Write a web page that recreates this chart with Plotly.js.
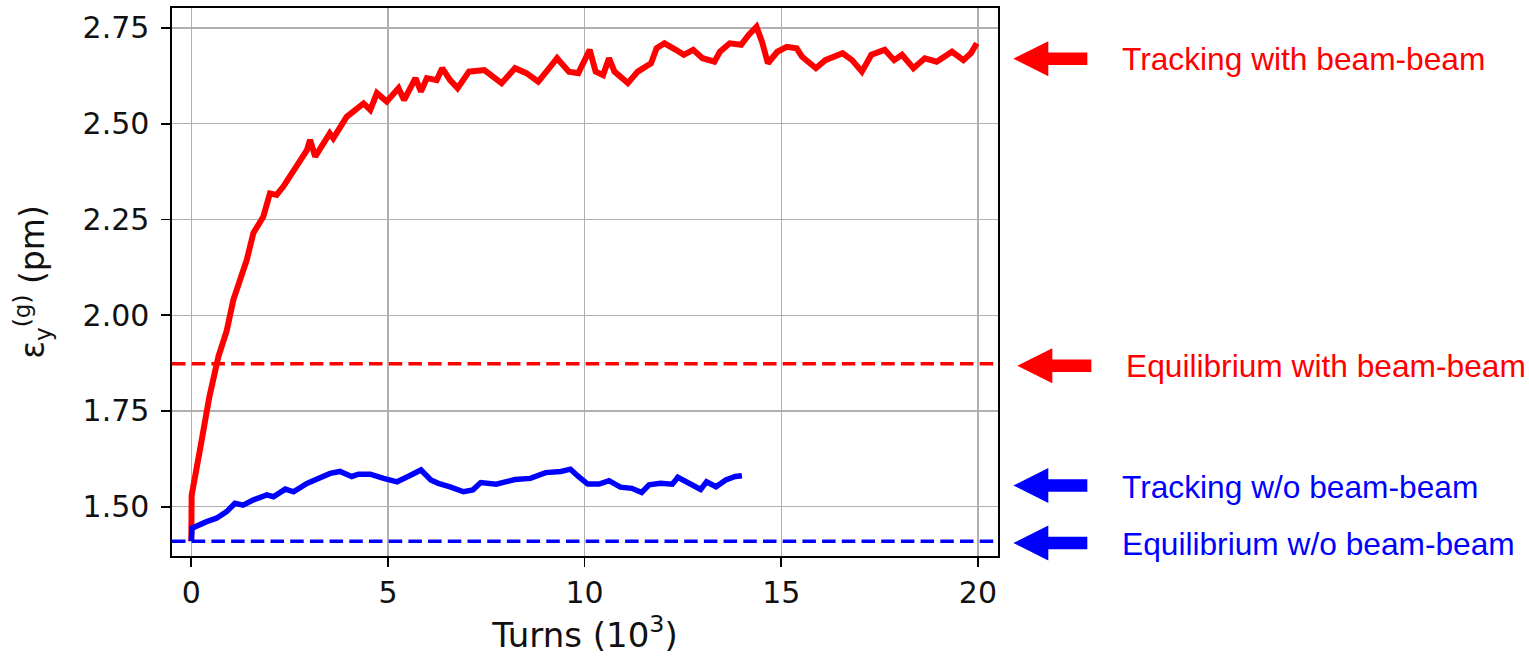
<!DOCTYPE html>
<html>
<head>
<meta charset="utf-8">
<script src="https://cdn.plot.ly/plotly-3.0.1.min.js"></script>
<style>html,body{margin:0;padding:0;background:#fff;} #chart{width:1529px;height:656px;}</style>
</head>
<body>
<div id="chart"></div>
<script>
// ---- data (turns in 10^3, emittance in pm) ----
var redTurns = [0, 0.01, 0.22, 0.46, 0.69, 0.9, 1.07, 1.41, 1.58, 1.83, 2.0, 2.17, 2.34, 2.6, 2.94, 3.02, 3.15, 3.52, 3.61, 3.95, 4.38, 4.55, 4.72, 4.97, 5.27, 5.41, 5.70, 5.84, 5.99, 6.24, 6.38, 6.58, 6.77, 7.06, 7.45, 7.89, 8.23, 8.52, 8.82, 9.06, 9.30, 9.60, 9.84, 10.13, 10.28, 10.47, 10.62, 10.76, 11.10, 11.35, 11.69, 11.83, 12.03, 12.32, 12.52, 12.76, 13.00, 13.30, 13.44, 13.69, 13.98, 14.17, 14.37, 14.51, 14.66, 14.90, 15.14, 15.39, 15.53, 15.88, 16.12, 16.56, 16.80, 17.05, 17.29, 17.63, 17.87, 18.07, 18.36, 18.65, 18.95, 19.34, 19.63, 19.82, 19.97];
var redEmit = [1.41, 1.53, 1.648, 1.787, 1.892, 1.959, 2.040, 2.144, 2.215, 2.257, 2.318, 2.314, 2.336, 2.379, 2.431, 2.458, 2.414, 2.475, 2.462, 2.518, 2.553, 2.536, 2.580, 2.558, 2.593, 2.562, 2.619, 2.584, 2.619, 2.614, 2.645, 2.614, 2.593, 2.636, 2.640, 2.606, 2.645, 2.632, 2.610, 2.640, 2.671, 2.636, 2.632, 2.693, 2.636, 2.627, 2.671, 2.636, 2.606, 2.636, 2.658, 2.697, 2.710, 2.693, 2.680, 2.693, 2.671, 2.662, 2.688, 2.710, 2.706, 2.732, 2.753, 2.714, 2.658, 2.688, 2.701, 2.697, 2.675, 2.645, 2.666, 2.684, 2.666, 2.636, 2.680, 2.693, 2.666, 2.680, 2.645, 2.671, 2.662, 2.688, 2.666, 2.684, 2.710];

var blueTurns = [0, 0.02, 0.39, 0.64, 0.90, 1.11, 1.32, 1.58, 1.92, 2.09, 2.39, 2.60, 2.94, 3.28, 3.53, 3.78, 4.08, 4.25, 4.55, 4.89, 5.23, 5.51, 5.84, 6.09, 6.28, 6.58, 6.92, 7.16, 7.36, 7.75, 8.23, 8.62, 9.01, 9.40, 9.64, 9.84, 10.08, 10.37, 10.62, 10.91, 11.20, 11.45, 11.64, 11.93, 12.23, 12.37, 12.61, 12.95, 13.10, 13.34, 13.59, 13.83, 14.00];
var blueEmit = [1.41, 1.444, 1.461, 1.470, 1.487, 1.509, 1.504, 1.518, 1.531, 1.526, 1.546, 1.539, 1.561, 1.574, 1.587, 1.592, 1.579, 1.585, 1.585, 1.574, 1.565, 1.579, 1.596, 1.570, 1.561, 1.552, 1.539, 1.544, 1.563, 1.559, 1.571, 1.574, 1.589, 1.592, 1.598, 1.579, 1.559, 1.559, 1.568, 1.551, 1.548, 1.537, 1.557, 1.561, 1.559, 1.577, 1.565, 1.545, 1.565, 1.552, 1.570, 1.579, 1.581];

var eqWithBB = 1.873;
var eqWithoutBB = 1.41;

var xTickVals = [0, 5, 10, 15, 20];
var xTickText = ["0", "5", "10", "15", "20"];
var yTickVals = [1.50, 1.75, 2.00, 2.25, 2.50, 2.75];
var yTickText = ["1.50", "1.75", "2.00", "2.25", "2.50", "2.75"];

var labels = ["Tracking with beam-beam", "Equilibrium with beam-beam", "Tracking w/o beam-beam", "Equilibrium w/o beam-beam"];
var labelColors = ["#ff0000", "#ff0000", "#0000ff", "#0000ff"];

// ---- layout geometry (pixels) ----
var W = 1529, H = 656;
var L = 172, R = 997.7, T = 8, B = 556;
function px2paperX(px) { return (px - L) / (R - L); }
function px2paperY(py) { return (B - py) / (B - T); }

// arrow + text positions (pixel), presentation only
var arrowTipX = [1013, 1017, 1013, 1013];
var arrowY = [58.7, 365.7, 485.5, 543];
var textX = [1121, 1125, 1121, 1121];
var textY = [58.7, 365.7, 486.5, 543.5];

function arrowPath(tip, yc) {
  var hb = tip + 35, tail = tip + 74, hh = 17.5, sh = 6.2;
  var pts = [[tip, yc], [hb, yc - hh], [hb, yc - sh], [tail, yc - sh], [tail, yc + sh], [hb, yc + sh], [hb, yc + hh]];
  return pts.map(function (p, i) {
    return (i === 0 ? 'M' : 'L') + px2paperX(p[0]).toFixed(5) + ',' + px2paperY(p[1]).toFixed(5);
  }).join(' ') + ' Z';
}

var shapes = [
  {type: 'line', xref: 'paper', yref: 'y', x0: 0, x1: 1, y0: eqWithBB, y1: eqWithBB,
   line: {color: '#ff0000', width: 3.5, dash: '13.5px,6.2px'}},
  {type: 'line', xref: 'paper', yref: 'y', x0: 0, x1: 1, y0: eqWithoutBB, y1: eqWithoutBB,
   line: {color: '#0000ff', width: 3.5, dash: '13.5px,6.2px'}}
];
var annotations = [];
for (var i = 0; i < labels.length; i++) {
  shapes.push({type: 'path', xref: 'paper', yref: 'paper', path: arrowPath(arrowTipX[i], arrowY[i]),
    fillcolor: labelColors[i], line: {width: 0}});
  annotations.push({xref: 'paper', yref: 'paper', x: px2paperX(textX[i]), y: px2paperY(textY[i]),
    xanchor: 'left', yanchor: 'middle', showarrow: false, text: labels[i], borderpad: 0,
    font: {family: 'Liberation Sans, Arial, sans-serif', size: 31.7, color: labelColors[i]}});
}

var traces = [
  {x: redTurns, y: redEmit, type: 'scatter', mode: 'lines', line: {color: '#ff0000', width: 6}, hoverinfo: 'skip'},
  {x: blueTurns, y: blueEmit, type: 'scatter', mode: 'lines', line: {color: '#0000ff', width: 5.5}, hoverinfo: 'skip'}
];

var tickFont = {family: 'DejaVu Sans, sans-serif', size: 30, color: '#111'};
var xTitleFont = {family: 'DejaVu Sans, sans-serif', size: 34, color: '#111'};
var yTitleFont = {family: 'DejaVu Sans, sans-serif', size: 33, color: '#111'};
var layout = {
  width: W, height: H,
  margin: {l: L, r: W - R, t: T, b: H - B, pad: 0},
  paper_bgcolor: '#fff', plot_bgcolor: '#fff',
  showlegend: false,
  xaxis: {
    range: [-0.49, 20.51], tickvals: xTickVals, ticktext: xTickText,
    showgrid: true, gridcolor: '#b0b0b0', gridwidth: 1.4, zeroline: false,
    showline: true, mirror: true, linecolor: '#000', linewidth: 1.6,
    ticks: 'outside', ticklen: 9, tickwidth: 1.6, tickcolor: '#000',
    tickfont: tickFont, ticklabelstandoff: 0,
    title: {text: 'Turns (10<sup>3</sup>)', font: xTitleFont, standoff: 14}
  },
  yaxis: {
    range: [1.3713, 2.8022], tickvals: yTickVals, ticktext: yTickText,
    showgrid: true, gridcolor: '#b0b0b0', gridwidth: 1.4, zeroline: false,
    showline: true, mirror: true, linecolor: '#000', linewidth: 1.6,
    ticks: 'outside', ticklen: 9, tickwidth: 1.6, tickcolor: '#000',
    tickfont: tickFont, ticklabelstandoff: 6,
    title: {text: '\u03b5<sub>y</sub><sup>(g)</sup> (pm)', font: yTitleFont, standoff: 28}
  },
  shapes: shapes,
  annotations: annotations
};

Plotly.newPlot('chart', traces, layout, {displayModeBar: false, staticPlot: true});
</script>
</body>
</html>
